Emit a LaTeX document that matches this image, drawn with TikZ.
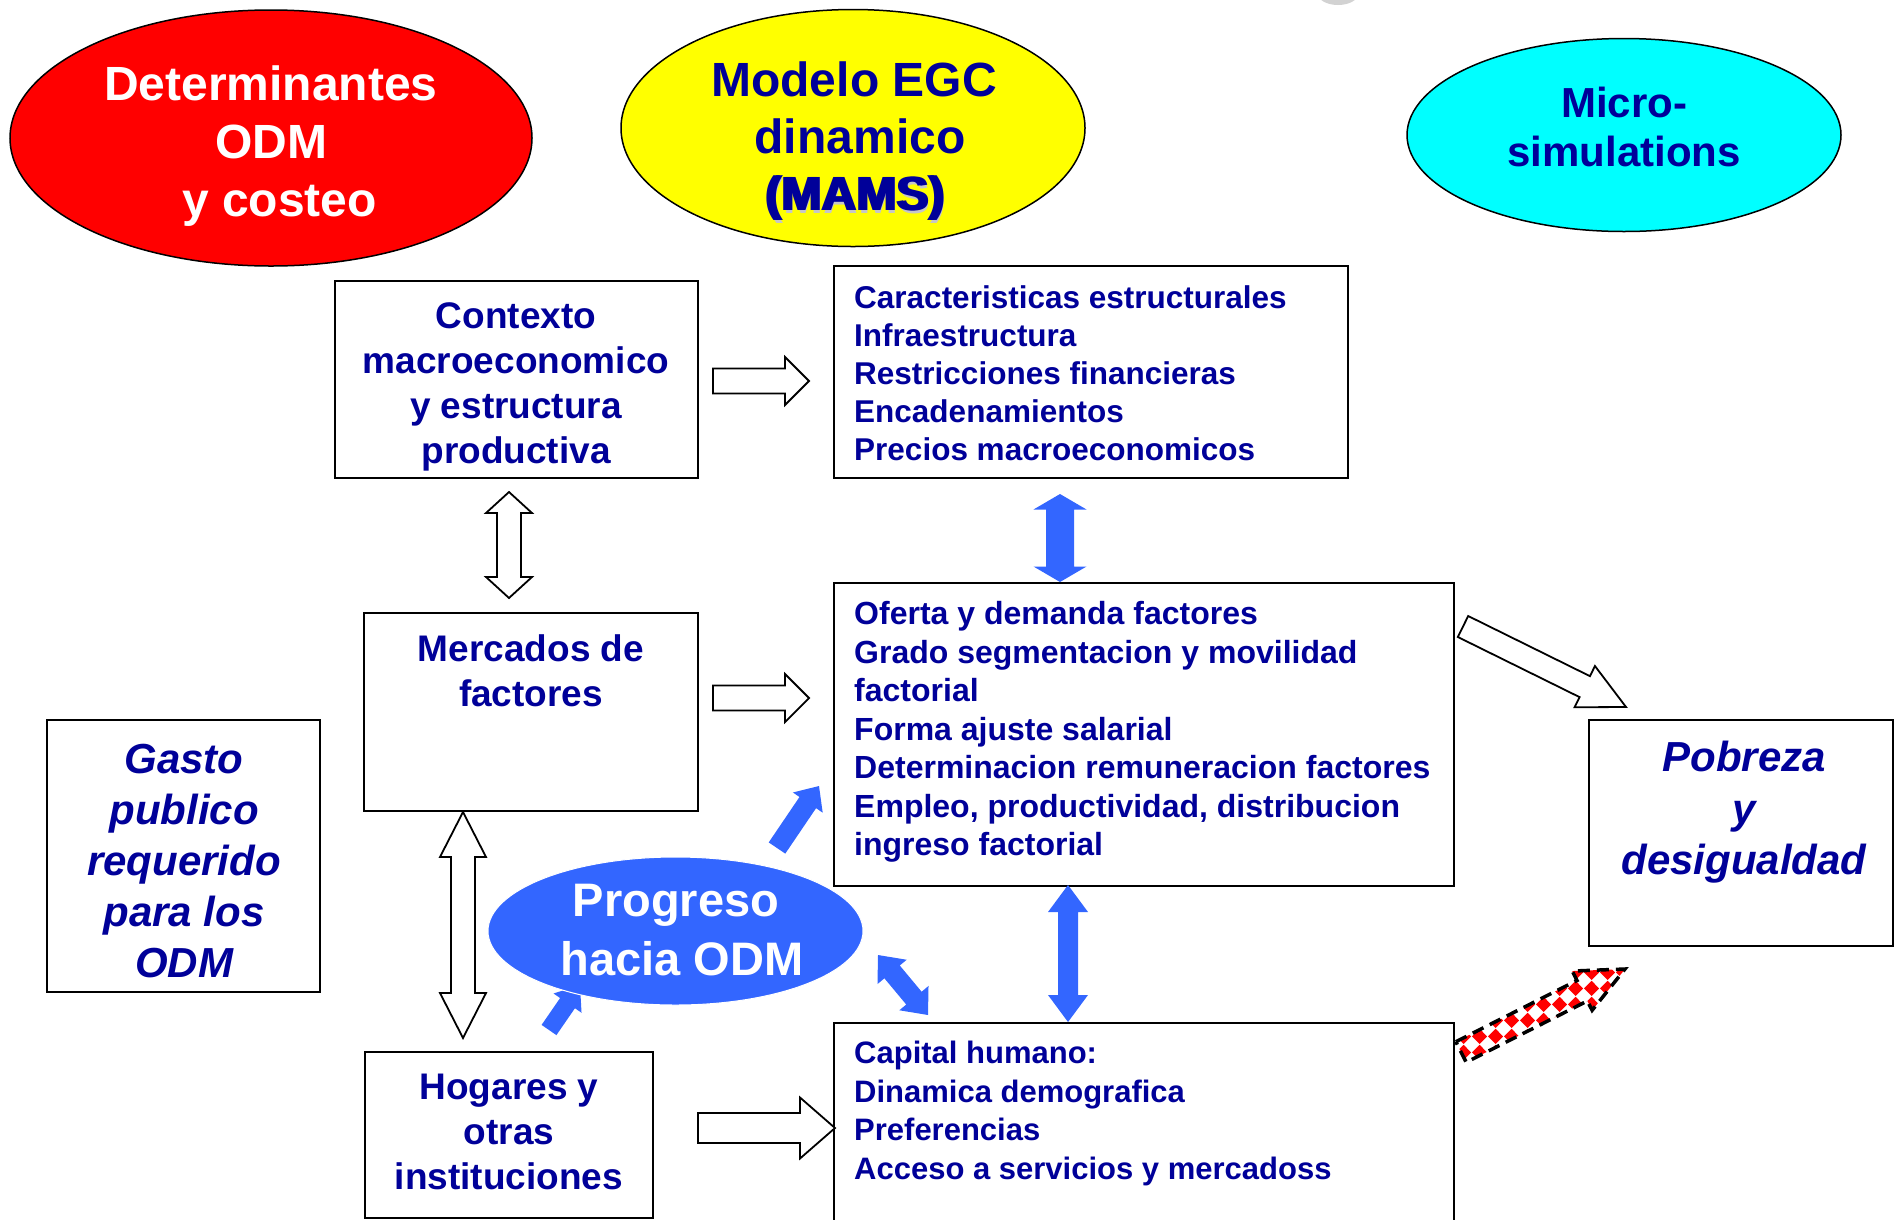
\documentclass[tikz,border=0pt]{standalone}
\usepackage{fontspec}
\setmainfont{Liberation Sans}
\usetikzlibrary{calc,shapes.geometric,patterns}
\definecolor{tblue}{RGB}{0,0,153}
\definecolor{pblue}{RGB}{51,102,255}
\definecolor{odmred}{RGB}{255,0,0}
\definecolor{odmyel}{RGB}{255,255,0}
\definecolor{odmcyan}{RGB}{0,255,255}
\pgfdeclarepatternformonly{diamondgrid}{\pgfpointorigin}{\pgfqpoint{16pt}{16pt}}{\pgfqpoint{16pt}{16pt}}{%
 \pgfpathmoveto{\pgfqpoint{8pt}{0pt}}\pgfpathlineto{\pgfqpoint{16pt}{8pt}}\pgfpathlineto{\pgfqpoint{8pt}{16pt}}\pgfpathlineto{\pgfqpoint{0pt}{8pt}}\pgfpathclose\pgfusepath{fill}}
\newcommand\fsz[2]{\fontsize{#1}{#2}\selectfont}
% single block arrow: style, tail, tip, shaft half, head half, head length
\newcommand\sarrow[6]{%
  \draw[#1] ($(#2)!#4!90:(#3)$) -- ($(#3)!#6!(#2)!#4!-90:(#2)$) -- ($(#3)!#6!(#2)!#5!-90:(#2)$) -- (#3) -- ($(#3)!#6!(#2)!#5!90:(#2)$) -- ($(#3)!#6!(#2)!#4!90:(#2)$) -- ($(#2)!#4!-90:(#3)$) -- cycle;}
% double block arrow: style, end A, end B, shaft half, head half, head length
\newcommand\darrow[6]{%
  \draw[#1] (#2) -- ($(#2)!#6!(#3)!#5!90:(#3)$) -- ($(#2)!#6!(#3)!#4!90:(#3)$) -- ($(#3)!#6!(#2)!#4!-90:(#2)$) -- ($(#3)!#6!(#2)!#5!-90:(#2)$) -- (#3) -- ($(#3)!#6!(#2)!#5!90:(#2)$) -- ($(#3)!#6!(#2)!#4!90:(#2)$) -- ($(#2)!#6!(#3)!#4!-90:(#3)$) -- ($(#2)!#6!(#3)!#5!-90:(#3)$) -- cycle;}
\newcommand\mamstext{\rlap{\hspace{3pt}\raisebox{-3pt}{\color{gray!45}(MAMS)}}\rlap{\hspace{3pt}(MAMS)}(MAMS)\hspace{3pt}}
\tikzset{
  box/.style={draw=black, line width=2pt, fill=white, rectangle, inner sep=0pt, outer sep=0pt, anchor=north west},
  oval/.style={ellipse, draw=black, line width=1.5pt, inner sep=0pt, outer sep=0pt},
  hollow/.style={draw=black, line width=1.8pt, fill=white, line join=miter},
  solidblue/.style={fill=pblue, draw=none},
  checker/.style={pattern=diamondgrid, pattern color=odmred, draw=black, line width=3.5pt, dash pattern=on 12pt off 7pt},
  ttl/.style={inner sep=0pt, align=center, anchor=north, font=\bfseries},
  lst/.style={inner sep=0pt, align=left, anchor=north west, text=tblue},
}
\begin{document}
\begin{tikzpicture}[x=1pt,y=-1pt]
\useasboundingbox (0,0) rectangle (1897,1219);
\clip (0,0) rectangle (1897,1219);
\fill[gray!35] (1338,-6) ellipse [x radius=20pt, y radius=11pt];
% top ellipses
\node[oval, fill=odmred, minimum width=522pt, minimum height=256pt] (det) at (271,138) {};
\node[oval, fill=odmyel, minimum width=464pt, minimum height=237pt] (egc) at (853,128) {};
\node[oval, fill=odmcyan, minimum width=434pt, minimum height=193pt] (mic) at (1624,135) {};
\node[ttl, text=white, font=\fsz{48}{58}\bfseries] (dett) at (271,66) {Determinantes\\ODM\\\hspace*{17pt}y costeo};
\node[ttl, text=tblue, font=\fsz{48}{57}\bfseries] (egct) at (854,62) {Modelo EGC\\\hspace*{12pt}dinamico\\\mamstext};
\node[ttl, text=tblue, font=\fsz{42}{49}\bfseries] (mict) at (1624,87) {Micro-\\simulations};
% boxes
\node[box, minimum width=363pt, minimum height=197pt] (ctx) at (335,281) {};
\node[box, minimum width=514pt, minimum height=212pt] (car) at (834,266) {};
\node[box, minimum width=334pt, minimum height=198pt] (mer) at (364,613) {};
\node[box, minimum width=620pt, minimum height=303pt] (ofe) at (834,583) {};
\node[box, minimum width=273pt, minimum height=272pt] (gas) at (47,720) {};
\node[box, minimum width=304pt, minimum height=226pt] (pob) at (1589,720) {};
\node[box, minimum width=288pt, minimum height=166pt] (hog) at (365,1052) {};
\node[box, minimum width=620pt, minimum height=230pt] (cap) at (834,1023) {};
% box texts
\node[ttl, text=tblue, font=\fsz{37}{45}\bfseries] (ctxt) at (516,302.5) {Contexto\\macroeconomico\\y estructura\\productiva};
\node[ttl, text=tblue, font=\fsz{37}{45}\bfseries] (mert) at (531,634) {Mercados de\\factores};
\node[ttl, text=tblue, font=\fsz{37}{45}\bfseries] (hogt) at (509,1074) {Hogares y\\otras\\instituciones};
\node[ttl, text=tblue, font=\fsz{42}{51}\bfseries\itshape] (gast) at (184,744) {Gasto\\publico\\requerido\\para los\\ODM};
\node[ttl, text=tblue, font=\fsz{42}{51.5}\bfseries\itshape] (pobt) at (1744,741) {Pobreza\\y\\desigualdad};
\node[lst, font=\fsz{31.5}{38}\bfseries] (cart) at (854,285.5) {Caracteristicas estructurales\\Infraestructura\\Restricciones financieras\\Encadenamientos\\Precios macroeconomicos};
\node[lst, font=\fsz{32}{38.5}\bfseries] (ofet) at (854,601.5) {Oferta y demanda factores\\Grado segmentacion y movilidad\\factorial\\Forma ajuste salarial\\Determinacion remuneracion factores\\Empleo, productividad, distribucion\\ingreso factorial};
\node[lst, font=\fsz{31}{38.5}\bfseries] (capt) at (854,1041) {Capital humano:\\Dinamica demografica\\Preferencias\\Acceso a servicios y mercadoss};
% connector end points
\coordinate (a1s) at (713,381); \coordinate (a1e) at (809,381);
\coordinate (a2s) at (713,698); \coordinate (a2e) at (809,698);
\coordinate (a3s) at (698,1128); \coordinate (a3e) at (835,1128);
\coordinate (a4s) at (1463,626.5); \coordinate (a4e) at (1626,707);
\coordinate (d1s) at (509,492); \coordinate (d1e) at (509,598);
\coordinate (d2s) at (463,812); \coordinate (d2e) at (463,1038);
\coordinate (b1s) at (1060,494); \coordinate (b1e) at (1060,582);
\coordinate (b2s) at (1068,885); \coordinate (b2e) at (1068,1022);
\coordinate (b3s) at (777,848); \coordinate (b3e) at (819,786);
\coordinate (b4s) at (549,1030); \coordinate (b4e) at (580,985);
\coordinate (b5s) at (878,955); \coordinate (b5e) at (928,1015);
\coordinate (cks) at (1461,1052); \coordinate (cke) at (1625,969);
% hollow arrows
\sarrow{hollow}{a1s}{a1e}{12.5pt}{24pt}{24pt}
\sarrow{hollow}{a2s}{a2e}{12.5pt}{24pt}{24pt}
\sarrow{hollow}{a3s}{a3e}{15pt}{30.5pt}{35pt}
\sarrow{hollow}{a4s}{a4e}{11.7pt}{23pt}{46pt}
\darrow{hollow}{d1s}{d1e}{12pt}{23pt}{21pt}
\darrow{hollow}{d2s}{d2e}{12pt}{23pt}{45pt}
% blue arrows
\darrow{solidblue}{b1s}{b1e}{14pt}{26.5pt}{15.5pt}
\darrow{solidblue}{b2s}{b2e}{10pt}{20pt}{27pt}
\sarrow{solidblue}{b3s}{b3e}{10pt}{18pt}{20pt}
\sarrow{solidblue}{b4s}{b4e}{9pt}{17pt}{22pt}
\darrow{solidblue}{b5s}{b5e}{10pt}{19pt}{22pt}
% checkered arrow
\sarrow{checker}{cks}{cke}{11.5pt}{22pt}{48pt}
% progreso ellipse
\node[ellipse, fill=pblue, draw=white, line width=1pt, inner sep=0pt, minimum width=375pt, minimum height=148pt] (prog) at (675.5,931) {};
\node[ttl, text=white, font=\fsz{47}{59}\bfseries] (progt) at (682,884) {Progreso\hspace*{12pt}\\hacia ODM};
\end{tikzpicture}
\end{document}
